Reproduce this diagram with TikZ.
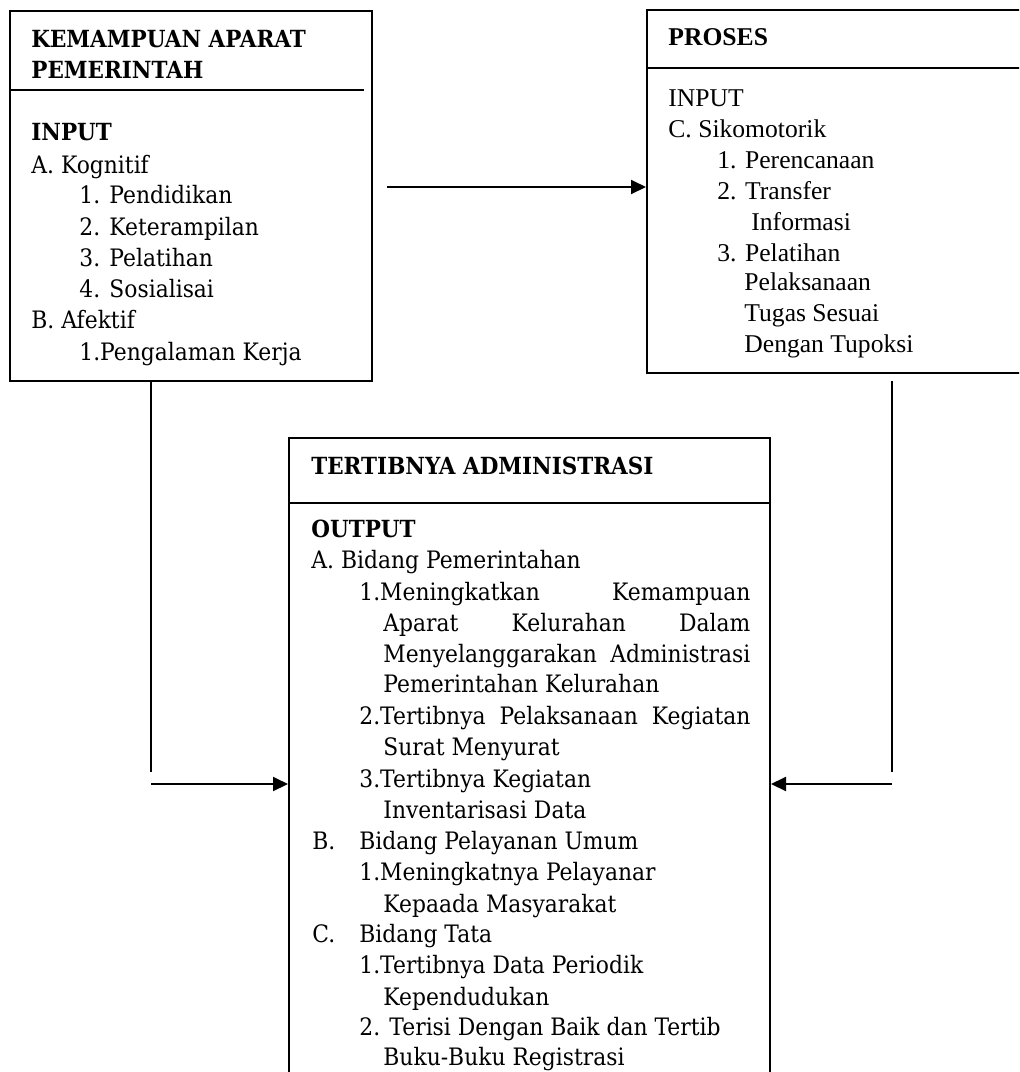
\documentclass[tikz,border=0pt]{standalone}
\usepackage{fontspec}
\setmainfont[FakeStretch=0.91]{DejaVu Serif}
\newfontfamily\timesfont{Liberation Serif}
\usetikzlibrary{arrows.meta}
\begin{document}
\begin{tikzpicture}[x=0.5pt,y=-0.5pt,
		box/.style={draw=black,line width=1pt,rectangle,inner sep=0pt},
		ln/.style={anchor=base west,inner sep=0pt,font=\fontsize{12}{14}\selectfont},
		hd/.style={ln,font=\bfseries\fontsize{11.8}{14}\selectfont},
		lnt/.style={anchor=base west,inner sep=0pt,font=\timesfont\fontsize{12.8}{15}\selectfont},
		arr/.style={line width=1pt,-{Triangle[length=7.5pt,width=7pt]}}]
			\clip (0,0) rectangle (1019,1072);
			\fill[white] (0,0) rectangle (1019,1072);
			
			\node[box,minimum width=181pt,minimum height=185pt](kemampuan) at (191,196){};
			\node[box,minimum width=206.5pt,minimum height=181.5pt](proses) at (853.5,191.5){};
			\node[box,minimum width=240.5pt,minimum height=336pt](tertib) at (529.5,774){};
			\draw[line width=1pt](kemampuan.west |- 0,90)--(364,90);
			\draw[line width=1pt](proses.west |- 0,68)--(proses.east |- 0,68);
			\draw[line width=1pt](tertib.west |- 0,503)--(tertib.east |- 0,503);
			
			\node[hd](k1) at (31,47){KEMAMPUAN APARAT};
			\node[hd](k2) at (31,78){PEMERINTAH};
			\node[hd](k3) at (31,140){INPUT};
			\node[ln](k4) at (31,173){A. Kognitif};
			\node[ln](k5) at (79,203){1. Pendidikan};
			\node[ln](k6) at (79,235){2. Keterampilan};
			\node[ln](k7) at (79,266){3. Pelatihan};
			\node[ln](k8) at (79,297){4. Sosialisai};
			\node[ln](k9) at (31,328){B. Afektif};
			\node[ln](k10) at (79,360){1.Pengalaman Kerja};
			
			\node[lnt,font=\timesfont\bfseries\fontsize{12.8}{15}\selectfont](p1) at (668,45){PROSES};
			\node[lnt](p2) at (668,106){INPUT};
			\node[lnt](p3) at (668,137){C. Sikomotorik};
			\node[lnt](p4) at (717,168){1. Perencanaan};
			\node[lnt](p5) at (717,199){2. Transfer};
			\node[lnt](p6) at (751,230){Informasi};
			\node[lnt](p7) at (717,261){3. Pelatihan};
			\node[lnt](p8) at (744,290){Pelaksanaan};
			\node[lnt](p9) at (744,321){Tugas Sesuai};
			\node[lnt](p10) at (744,352){Dengan Tupoksi};
			
			\node[hd](t1) at (311,474){TERTIBNYA ADMINISTRASI};
			\node[hd](t2) at (311,537){OUTPUT};
			\node[ln](t3) at (311,568){A. Bidang Pemerintahan};
			\node[ln](t4) at (359,600){\makebox[195.5pt][s]{1.Meningkatkan Kemampuan}};
			\node[ln](t5) at (383,631){\makebox[183.5pt][s]{Aparat Kelurahan Dalam}};
			\node[ln](t6) at (383,662){\makebox[183.5pt][s]{Menyelanggarakan Administrasi}};
			\node[ln](t7) at (383,692){Pemerintahan Kelurahan};
			\node[ln](t8) at (359,724){\makebox[195.5pt][s]{2.Tertibnya Pelaksanaan Kegiatan}};
			\node[ln](t9) at (383,755){Surat Menyurat};
			\node[ln](t10) at (359,787){3.Tertibnya Kegiatan};
			\node[ln](t11) at (383,818){Inventarisasi Data};
			\node[ln](t12) at (312,849){B.};
			\node[ln](t13) at (359,849){Bidang Pelayanan Umum};
			\node[ln](t14) at (359,880){1.Meningkatnya Pelayanar};
			\node[ln](t15) at (383,912){Kepaada Masyarakat};
			\node[ln](t16) at (312,942){C.};
			\node[ln](t17) at (359,942){Bidang Tata};
			\node[ln](t18) at (359,973){1.Tertibnya Data Periodik};
			\node[ln](t19) at (383,1005){Kependudukan};
			\node[ln](t20) at (359,1035){2. Terisi Dengan Baik dan Tertib};
			\node[ln](t21) at (383,1065){Buku-Buku Registrasi};
			
			\coordinate(a) at (387,187);
			\coordinate(b1) at (151,381);
			\coordinate(b2) at (151,772);
			\coordinate(b3) at (151,784);
			\coordinate(c1) at (892,381);
			\coordinate(c2) at (892,772);
			\coordinate(c3) at (892,784);
			\draw[arr](a)--(a -| proses.west);
			\draw[line width=1pt](b1)--(b2);
			\draw[arr](b3)--(b3 -| tertib.west);
			\draw[line width=1pt](c1)--(c2);
			\draw[arr](c3)--(c3 -| tertib.east);
		\end{tikzpicture}
\end{document}
